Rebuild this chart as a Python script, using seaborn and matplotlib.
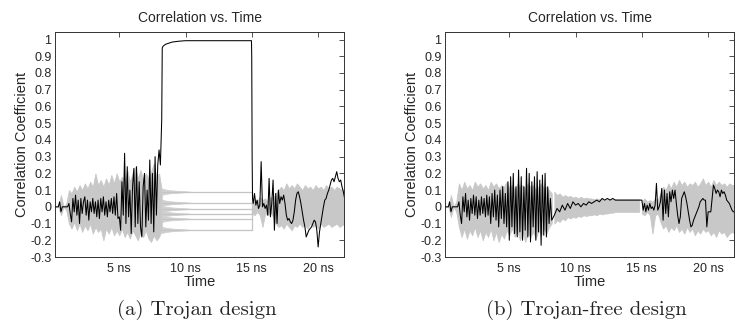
import numpy as np
import pandas as pd
import matplotlib
matplotlib.use("Agg")
import matplotlib.pyplot as plt
import seaborn as sns

# ---------------- data ----------------
# Panel (a) Trojan design -- black trace (correct key)
a_early_span = (0.2, 8.1)
a_early = [0, 0, 0, 0.03, -0.03, 0, 0, 0, 0, 0,
           0.02, -0.04, -0.09, 0.05, -0.03, 0.07, -0.05, 0.04, -0.1, 0.05,
           -0.04, 0.03, 0.06, -0.05, 0.04, -0.08, 0.03, -0.03,
           0.05, -0.04, 0.03, -0.06, 0.04, -0.07, 0.05, -0.03, 0.06, -0.05,
           0.03, -0.06, 0.04, -0.03, 0.05, -0.04, 0.06, -0.05, 0.08, -0.07,
           -0.06, -0.14, 0.15, -0.05, 0.32, -0.1, 0.24, -0.06, 0.1, -0.16,
           0.12, 0.23, -0.12, 0.24, -0.1, 0.15, -0.12, -0.18, 0.12, 0.2,
           -0.12, 0.1, -0.08, 0.28, -0.1, 0.2, -0.15, 0.3, -0.05, 0.25,
           0.34, 0.25]
a_plateau_t = [8.2, 8.24, 8.3, 8.5, 8.8, 9.0, 9.5, 10.0, 14.97, 14.99, 15.02, 15.05]
a_plateau = [0.52, 0.95, 0.96, 0.972, 0.98, 0.985, 0.99, 0.993, 0.993, 0.9, 0.3, 0.05]
a_late_span = (15.1, 22.0)
a_late = [0.02, 0.08, 0.01, 0.04, -0.01, 0.01, 0.27, 0.0, 0.02, -0.01,
          0.01, -0.05, 0.17, -0.06, 0.02, 0.16, -0.14, 0.08, -0.1, 0.1,
          0.02, 0.06, 0.04, 0.07, 0.02, -0.05, -0.08, -0.07, -0.09, -0.1,
          -0.08, -0.03, 0.04, 0.08, 0.09, 0.06, 0.02, -0.03, -0.08, -0.12,
          -0.18, -0.16, -0.14, -0.13, -0.12, -0.1, -0.08, -0.09, -0.14, -0.24,
          -0.15, -0.1, -0.05, 0.0, 0.04, 0.05, 0.08, 0.1, 0.13, 0.16,
          0.17, 0.15, 0.18, 0.21, 0.17, 0.15, 0.16, 0.12, 0.09, 0.05]
# Panel (a) -- gray traces (wrong keys): envelope of the band
a_gray_early_span = (0.2, 8.2)
a_gray_early_up = [0, 0, 0.07, 0, 0.02, 0.1, 0.08, 0.12, 0.09, 0.13,
                   0.1, 0.14, 0.11, 0.15, 0.12, 0.2, 0.13, 0.16, 0.12, 0.17,
                   0.13, 0.19, 0.14, 0.2, 0.15, 0.18, 0.14, 0.22, 0.15, 0.2,
                   0.24, 0.17, 0.22, 0.16, 0.2, 0.17, 0.21, 0.26, 0.18, 0.2, 0.1]
a_gray_early_lo = [0, 0, -0.05, 0, -0.02, -0.1, -0.13, -0.09, -0.14, -0.1,
                   -0.15, -0.11, -0.14, -0.1, -0.16, -0.12, -0.15, -0.13, -0.2, -0.13,
                   -0.16, -0.12, -0.17, -0.14, -0.17, -0.13, -0.18, -0.15, -0.19, -0.14,
                   -0.17, -0.2, -0.15, -0.18, -0.14, -0.19, -0.21, -0.17, -0.2, -0.18, -0.14]
a_gray_late_span = (15.0, 22.0)
a_gray_late_up = [0.03, 0.05, 0.03, 0.06, 0.04, 0.05, 0.03, 0.06, 0.05, 0.08,
                  0.1, 0.12, 0.1, 0.14, 0.11, 0.13, 0.11, 0.14, 0.12, 0.1,
                  0.13, 0.11, 0.12, 0.1, 0.13, 0.11, 0.12, 0.1, 0.13, 0.11,
                  0.12, 0.1, 0.12, 0.11, 0.1, 0.11]
a_gray_late_lo = [-0.04, -0.05, -0.03, -0.05, -0.12, -0.04, -0.05, -0.03, -0.06, -0.1,
                  -0.12, -0.11, -0.13, -0.1, -0.12, -0.14, -0.11, -0.12, -0.1, -0.12,
                  -0.11, -0.13, -0.1, -0.12, -0.11, -0.13, -0.1, -0.12, -0.11, -0.1,
                  -0.12, -0.11, -0.1, -0.12, -0.11, -0.1]
a_levels = [0.09, 0.024, -0.012, -0.042, -0.072, -0.138]
a_level_window = [8.2, 15.0]
# fuzzy start of the constant wrong-key lines (8.2 .. 10.4 ns)
a_fuzz_span = (8.2, 10.4)
a_fuzz_width = [0.02, 0.015, 0.012, 0.01, 0.008, 0.007, 0.006, 0.005, 0.004, 0.003, 0.002, 0.0]

# Panel (b) Trojan-free design -- black trace
b_early_span = (0.2, 8.2)
b_early = [0, 0, 0, 0.03, -0.03, 0, 0, 0, 0, 0,
           0.03, -0.05, -0.1, 0.06, -0.03, 0.08, -0.06, 0.04, -0.08, 0.05,
           -0.04, 0.07, -0.05, 0.06, -0.07, 0.04, -0.05, 0.06,
           -0.04, 0.05, -0.06, 0.07, -0.05, 0.06, -0.1, 0.08, -0.06, 0.1,
           -0.08, 0.07, -0.12, 0.1, -0.07, 0.12, -0.1, 0.08, -0.12, 0.15,
           -0.2, 0.18, -0.12, 0.2, -0.16, 0.12, -0.18, 0.22, -0.15, 0.18,
           -0.2, 0.12, -0.14, 0.23, -0.18, 0.2, -0.21, 0.15, -0.12, 0.18,
           -0.2, 0.21, -0.15, 0.16, -0.23, 0.19, -0.17, 0.2, -0.18, 0.12,
           -0.1, 0.05, -0.08]
b_mid_span = (8.4, 15.0)
b_mid = [-0.05, -0.01, -0.03, 0.01, -0.02, 0.02, -0.01, 0.03, 0.01, 0.02,
         0.0, 0.02, 0.01, 0.03, 0.02, 0.03, 0.04, 0.03, 0.05, 0.04,
         0.05, 0.04, 0.05, 0.04, 0.04, 0.04, 0.04, 0.04, 0.04, 0.04,
         0.04, 0.04, 0.04, 0.04]
b_late_span = (15.1, 22.0)
b_late = [-0.02, 0.02, -0.03, 0.01, -0.02, 0.02, -0.01, 0.0, -0.02, 0.01,
          0.14, -0.02, 0.0, 0.03, 0.11, -0.08, 0.1, -0.04, 0.08, -0.06,
          0.09, 0.03, 0.1, 0.05, 0.1, 0.02, -0.05, -0.1, -0.06, 0.05,
          0.07, 0.09, 0.06, 0.02, -0.03, -0.08, -0.12, -0.11, -0.08, -0.06,
          -0.04, -0.02, 0.0, 0.03, 0.04, 0.05, 0.04, 0.04, -0.12, -0.03,
          -0.03, -0.03, 0.05, 0.13, 0.11, 0.08, 0.1, 0.09, 0.06, 0.1,
          0.08, 0.09, 0.07, 0.04, 0.03, 0.02, 0.0, -0.02, -0.03, -0.03]
# Panel (b) -- gray band envelope
b_gray_early_span = (0.2, 8.2)
b_gray_early_up = [0, 0, 0.07, 0, 0.03, 0.14, 0.1, 0.15, 0.11, 0.13,
                   0.1, 0.15, 0.12, 0.14, 0.11, 0.13, 0.1, 0.15, 0.12, 0.14,
                   0.11, 0.13, 0.12, 0.15, 0.11, 0.13, 0.1, 0.14, 0.12, 0.13,
                   0.11, 0.14, 0.12, 0.13, 0.1, 0.12, 0.14, 0.11, 0.12, 0.1, 0.08]
b_gray_early_lo = [0, 0, -0.06, 0, -0.03, -0.12, -0.18, -0.13, -0.19, -0.14,
                   -0.17, -0.12, -0.18, -0.14, -0.2, -0.15, -0.18, -0.13, -0.2, -0.15,
                   -0.21, -0.16, -0.19, -0.14, -0.17, -0.13, -0.18, -0.14, -0.2, -0.15,
                   -0.21, -0.16, -0.18, -0.15, -0.19, -0.14, -0.17, -0.13, -0.16, -0.12, -0.1]
b_gray_mid_span = (8.4, 14.8)
b_gray_mid_up = [0.09, 0.07, 0.08, 0.06, 0.07, 0.06, 0.065, 0.055, 0.06, 0.05,
                 0.06, 0.05, 0.055, 0.05, 0.05, 0.045, 0.05, 0.045, 0.045, 0.04,
                 0.045, 0.045, 0.045, 0.045, 0.045, 0.045, 0.045, 0.045, 0.045, 0.045,
                 0.045, 0.045, 0.045]
b_gray_mid_lo = [-0.1, -0.08, -0.09, -0.07, -0.08, -0.06, -0.07, -0.06, -0.065, -0.055,
                 -0.06, -0.05, -0.055, -0.05, -0.05, -0.045, -0.05, -0.04, -0.045, -0.04,
                 -0.04, -0.035, -0.035, -0.03, -0.03, -0.03, -0.03, -0.03, -0.03, -0.03,
                 -0.03, -0.03, -0.03]
b_gray_late_span = (15.0, 22.0)
b_gray_late_up = [0.03, 0.05, 0.03, 0.04, 0.03, 0.05, 0.04, 0.08, 0.12, 0.1,
                  0.14, 0.11, 0.15, 0.12, 0.16, 0.13, 0.15, 0.12, 0.14, 0.13,
                  0.15, 0.12, 0.14, 0.17, 0.13, 0.15, 0.12, 0.16, 0.13, 0.15,
                  0.13, 0.14, 0.12, 0.14, 0.13, 0.13]
b_gray_late_lo = [-0.04, -0.05, -0.03, -0.05, -0.16, -0.05, -0.04, -0.09, -0.13, -0.11,
                  -0.15, -0.12, -0.14, -0.11, -0.15, -0.13, -0.16, -0.12, -0.15, -0.13,
                  -0.17, -0.14, -0.16, -0.13, -0.15, -0.14, -0.17, -0.15, -0.18, -0.14,
                  -0.16, -0.15, -0.18, -0.16, -0.15, -0.16]

x_ticks = [5, 10, 15, 20]
x_ticklabels = ["5 ns", "10 ns", "15 ns", "20 ns"]
y_ticks = [-0.3, -0.2, -0.1, 0, 0.1, 0.2, 0.3, 0.4, 0.5, 0.6, 0.7, 0.8, 0.9, 1]
y_ticklabels = ["-0.3", "-0.2", "-0.1", "0", "0.1", "0.2", "0.3", "0.4",
                "0.5", "0.6", "0.7", "0.8", "0.9", "1"]
titles = ["Correlation vs. Time", "Correlation vs. Time"]
captions = ["(a) Trojan design", "(b) Trojan-free design"]


def span_t(span, vals):
    return np.linspace(span[0], span[1], len(vals))


# ---------------- style ----------------
sns.set_style("white")
plt.rcParams["font.family"] = ["Liberation Sans", "DejaVu Sans"]

GRAY = "#c8c8c8"
fig = plt.figure(figsize=(7.56, 3.27), dpi=100)
ax_a = fig.add_axes([55 / 756, 1 - 257 / 327, 289 / 756, 225 / 327])
ax_b = fig.add_axes([445 / 756, 1 - 257 / 327, 289 / 756, 225 / 327])


def draw_band(ax, span, up, lo):
    t = span_t(span, up)
    ax.fill_between(t, lo, up, color=GRAY, edgecolor=GRAY, linewidth=0.6, zorder=1)


def draw_black(ax, ts, vs):
    df = pd.DataFrame({"t": np.concatenate(ts), "r": np.concatenate(vs)})
    sns.lineplot(data=df, x="t", y="r", ax=ax, color="black", linewidth=0.75,
                 estimator=None, sort=False, zorder=3)


# panel (a)
draw_band(ax_a, a_gray_early_span, a_gray_early_up, a_gray_early_lo)
draw_band(ax_a, a_gray_late_span, a_gray_late_up, a_gray_late_lo)
fz_t = span_t(a_fuzz_span, a_fuzz_width)
fz_w = np.array(a_fuzz_width)
for lvl in a_levels:
    sns.lineplot(x=a_level_window, y=[lvl, lvl], ax=ax_a, color="#c4c4c4",
                 linewidth=0.9, estimator=None, zorder=2)
    ax_a.fill_between(fz_t, lvl - fz_w, lvl + fz_w, color="#d0d0d0",
                      edgecolor="#d0d0d0", linewidth=0.5, zorder=1)
sns.lineplot(x=[a_level_window[1]] * 2, y=[min(a_levels), max(a_levels)], ax=ax_a,
             color="#c4c4c4", linewidth=0.9, estimator=None, sort=False, zorder=2)
draw_black(ax_a,
           [span_t(a_early_span, a_early), np.array(a_plateau_t), span_t(a_late_span, a_late)],
           [np.array(a_early), np.array(a_plateau), np.array(a_late)])

# panel (b)
draw_band(ax_b, b_gray_early_span, b_gray_early_up, b_gray_early_lo)
draw_band(ax_b, b_gray_mid_span, b_gray_mid_up, b_gray_mid_lo)
draw_band(ax_b, b_gray_late_span, b_gray_late_up, b_gray_late_lo)
draw_black(ax_b,
           [span_t(b_early_span, b_early), span_t(b_mid_span, b_mid), span_t(b_late_span, b_late)],
           [np.array(b_early), np.array(b_mid), np.array(b_late)])

for ax, title, cap in zip([ax_a, ax_b], titles, captions):
    ax.set_xlim(0.15, 21.95)
    ax.set_ylim(-0.3, 1.045)
    ax.set_xticks(x_ticks)
    ax.set_xticklabels(x_ticklabels)
    ax.set_yticks(y_ticks)
    ax.set_yticklabels(y_ticklabels)
    ax.tick_params(direction="in", top=True, right=True, length=3.5, width=0.6,
                   labelsize=9, color="#333333")
    ax.tick_params(axis="y", pad=2.5)
    ax.tick_params(axis="x", pad=4.5)
    for s in ax.spines.values():
        s.set_visible(True)
        s.set_color("#333333")
        s.set_linewidth(0.7)
    ax.set_title(title, fontsize=10, pad=7)
    ax.set_xlabel("Time", fontsize=10.5, labelpad=0)
    ax.set_ylabel("Correlation Coefficient", fontsize=10.5, labelpad=1)
    bb = ax.get_position()
    fig.text((bb.x0 + bb.x1) / 2 - 3 / 756, 1 - 310 / 327, cap, family="cmr10",
             fontsize=15, ha="center", va="center")

fig.savefig("out.png", dpi=100)
